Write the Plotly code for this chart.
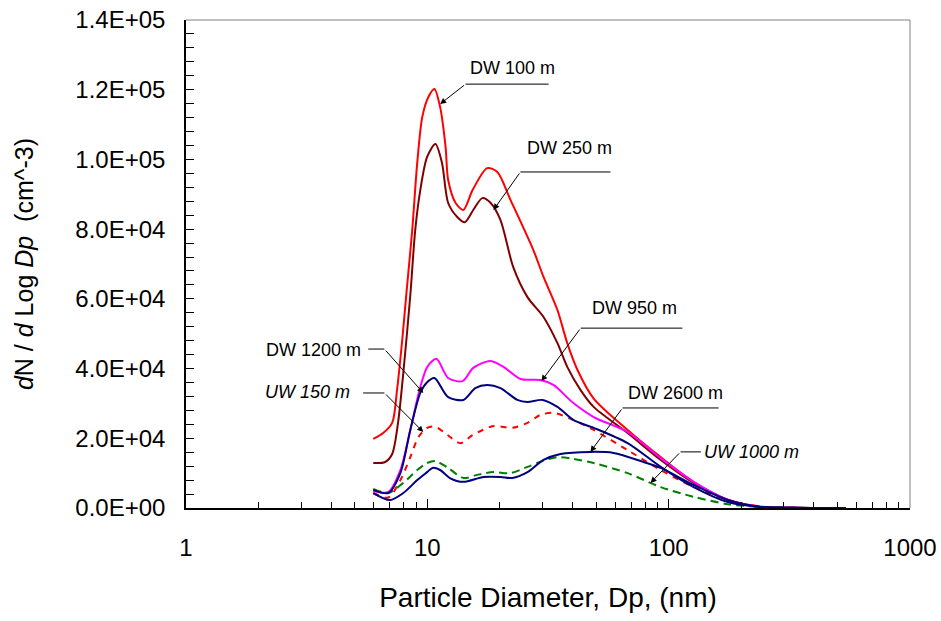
import math
import plotly.graph_objects as go

# ---- data (Dp in nm, dN/dlogDp in cm^-3) ----
dw100_x = [5.97, 6.56, 7.15, 7.49, 7.87, 8.2, 8.66, 9.08, 9.53, 10.1, 10.7, 11.3, 11.9, 12.2, 13.1, 14.1, 15.4, 17.7, 19.5, 22.1, 27.5, 30.3, 34.6, 38, 41.9, 48.9, 67.6, 92.7, 127, 176, 240, 330, 540]
dw100_y = [19800, 21500, 24400, 33900, 48200, 62000, 79800, 99000, 112200, 117900, 120200, 115000, 103600, 94100, 87500, 85500, 91200, 97500, 96400, 88400, 74000, 66300, 56800, 47300, 39600, 31400, 22400, 14600, 7460, 2300, 300, 50, 0]

dw250_x = [5.97, 6.69, 7.15, 7.56, 7.95, 8.5, 8.91, 9.35, 9.98, 10.8, 11.5, 12.2, 13.3, 14.3, 15.5, 16.9, 18.3, 20.1, 22.7, 26, 30.3, 34.6, 38, 43.1, 48.9, 67.6, 92.7, 127, 176, 240, 330, 540]
dw250_y = [12900, 13200, 15500, 24400, 38700, 61000, 79800, 91200, 100700, 104400, 99000, 87500, 83500, 82000, 85500, 88900, 87500, 82600, 69100, 60500, 54800, 47300, 40500, 33900, 29000, 21500, 13800, 7200, 2300, 300, 50, 0]

dw950_x = [5.97, 6.89, 7.73, 8.5, 9.35, 10.0, 10.9, 12.2, 14.0, 15.5, 18.2, 20.7, 24.3, 29.4, 33.3, 40.3, 48.9, 67.6, 92.7, 127, 176, 240, 330, 540]
dw950_y = [4900, 4600, 10900, 22400, 34700, 40500, 42800, 37300, 36400, 40200, 42200, 40500, 37000, 36700, 35300, 30100, 26100, 21800, 14300, 7500, 2400, 400, 80, 0]

dw1200_x = [5.97, 6.89, 7.73, 8.5, 9.35, 9.98, 10.7, 12.2, 14.1, 15.8, 17.7, 20.1, 23.6, 26, 30, 34.6, 40.4, 48.9, 67.6, 92.7, 127, 176, 240, 330, 540]
dw1200_y = [5200, 4300, 10000, 22400, 33000, 36100, 37300, 31800, 31000, 34400, 35300, 34400, 31000, 30400, 31000, 29000, 25200, 23000, 18600, 11800, 6000, 1700, 300, 50, 0]

uw150_x = [5.97, 6.89, 7.73, 8.5, 9.2, 9.98, 10.8, 12.1, 13.7, 15.4, 18.8, 22.5, 26, 29.4, 33.3, 40.4, 48.9, 67.6, 92.7, 127, 176, 240, 330, 540]
uw150_y = [4300, 3000, 8000, 14600, 20400, 23000, 23300, 21000, 18600, 20900, 23500, 23000, 24400, 26700, 27300, 25200, 22400, 16600, 10900, 6000, 2300, 400, 50, 0]

uw1000_x = [5.97, 6.89, 7.95, 9.08, 9.98, 10.8, 12.2, 14.1, 16.1, 18.8, 22.1, 26, 30, 34.6, 40.4, 48.9, 67.6, 92.7, 127, 176, 240, 330, 540]
uw1000_y = [5500, 4300, 7200, 10900, 12900, 13500, 11500, 8600, 9500, 10300, 10000, 11800, 13500, 14600, 14100, 12900, 10000, 6000, 3200, 1100, 300, 50, 0]

dw2600_x = [5.97, 7.0, 7.95, 9.08, 9.98, 10.5, 11.3, 12.4, 14.1, 17.1, 20.1, 22.5, 26, 30.3, 35.6, 47.5, 59.1, 78.7, 92.7, 127, 176, 240, 330, 540]
dw2600_y = [4300, 2300, 4300, 8000, 10300, 11500, 10900, 8600, 7500, 8900, 8900, 8600, 10300, 13800, 15500, 16100, 15800, 13200, 11500, 6600, 2300, 300, 50, 0]

y_ticks = [0, 20000, 40000, 60000, 80000, 100000, 120000, 140000]
x_ticks = [1, 10, 100, 1000]

# labels: (text, italic, text position, leader line (x0, x1, y), arrow head)
labels = [
    ("DW 100 m", False, (22.5, 126200), (14.4, 31.8, 121600), (11.3, 115900)),
    ("DW 250 m", False, (38.8, 103300), (24.3, 57.4, 96400), (18.8, 85500)),
    ("DW 950 m", False, (72.3, 57400), (43.2, 114, 51600), (29.7, 36400)),
    ("DW 1200 m", False, (3.37, 45300), (5.69, 6.64, 45600), (9.62, 33000)),
    ("UW 150 m", True, (3.18, 33300), (5.42, 6.64, 33000), (9.62, 21800)),
    ("DW 2600 m", False, (107, 33000), (64.4, 161, 28700), (47.4, 16100)),
    ("UW 1000 m", True, (221, 16100), (112, 136, 16100), (84.1, 7200)),
]

series = [
    (dw100_x, dw100_y, "#FF0000", "solid", 2),
    (dw250_x, dw250_y, "#800000", "solid", 2),
    (dw950_x, dw950_y, "#FF00FF", "solid", 2),
    (uw150_x, uw150_y, "#FF0000", "6px,6px", 2),
    (uw1000_x, uw1000_y, "#008000", "8px,5px", 2),
    (dw1200_x, dw1200_y, "#000080", "solid", 2),
    (dw2600_x, dw2600_y, "#000080", "solid", 2),
]

fig = go.Figure()
for xs, ys, col, dash, w in series:
    fig.add_trace(go.Scatter(x=xs, y=ys, mode="lines",
                             line=dict(color=col, dash=dash, width=w, shape="spline", smoothing=0.8),
                             showlegend=False, hoverinfo="skip"))

shapes = []
annotations = []
narrow = "Liberation Sans Narrow, Arial Narrow, Liberation Sans, sans-serif"
for text, ital, (tx, ty), (lx0, lx1, ly), (hx, hy) in labels:
    t = f"<i>{text}</i>" if ital else text
    annotations.append(dict(x=math.log10(tx), y=ty, xref="x", yref="y", text=t,
                            showarrow=False, xanchor="center", yanchor="middle",
                            font=dict(family=narrow, size=18, color="#000000")))
    shapes.append(dict(type="line", xref="x", yref="y", x0=lx0, x1=lx1, y0=ly, y1=ly,
                       line=dict(color="#000000", width=1)))
    tail_x = lx1 if hx > lx1 else lx0
    annotations.append(dict(x=math.log10(hx), y=hy, xref="x", yref="y",
                            ax=math.log10(tail_x), ay=ly, axref="x", ayref="y",
                            text="", showarrow=True, arrowhead=2, arrowsize=1.2,
                            arrowwidth=1, arrowcolor="#000000"))

# top and right frame lines (gray)
shapes.append(dict(type="line", xref="paper", yref="paper", x0=0, x1=1, y0=1, y1=1,
                   line=dict(color="#808080", width=1)))
shapes.append(dict(type="line", xref="paper", yref="paper", x0=1, x1=1, y0=0, y1=1,
                   line=dict(color="#808080", width=1)))

fig.update_layout(
    width=941, height=621,
    margin=dict(l=186, r=31, t=20, b=113, autoexpand=False),
    paper_bgcolor="white", plot_bgcolor="white",
    font=dict(family="Liberation Sans, Arial, sans-serif", size=24, color="#000000"),
    shapes=shapes, annotations=annotations, showlegend=False,
)
fig.update_xaxes(
    type="log", range=[0, 3], tickvals=x_ticks, ticktext=[str(v) for v in x_ticks],
    ticks="inside", ticklen=9, tickcolor="#000000", tickwidth=1,
    minor=dict(ticks="inside", ticklen=6, tickcolor="#000000", dtick="D1", showgrid=False),
    showline=True, linecolor="#000000", linewidth=1.5, showgrid=False, zeroline=False,
    ticklabelstandoff=17, tickfont=dict(size=24), automargin=False,
    title=dict(text="Particle Diameter, Dp, (nm)", font=dict(size=28), standoff=28),
)
fig.update_yaxes(
    range=[0, 140000], tickvals=y_ticks, ticktext=[f"{v:.1E}" for v in y_ticks],
    ticks="inside", ticklen=8, tickcolor="#000000", tickwidth=1,
    minor=dict(ticks="inside", ticklen=8, tickcolor="#000000", dtick=4000, showgrid=False),
    showline=True, linecolor="#000000", linewidth=1.5, showgrid=False, zeroline=False,
    ticklabelstandoff=14, tickfont=dict(size=24), automargin=False,
    title=dict(text="<i>d</i>N / <i>d</i> Log <i>Dp</i>  (cm^-3)", font=dict(size=25), standoff=35),
)

fig.write_html("out.html")
